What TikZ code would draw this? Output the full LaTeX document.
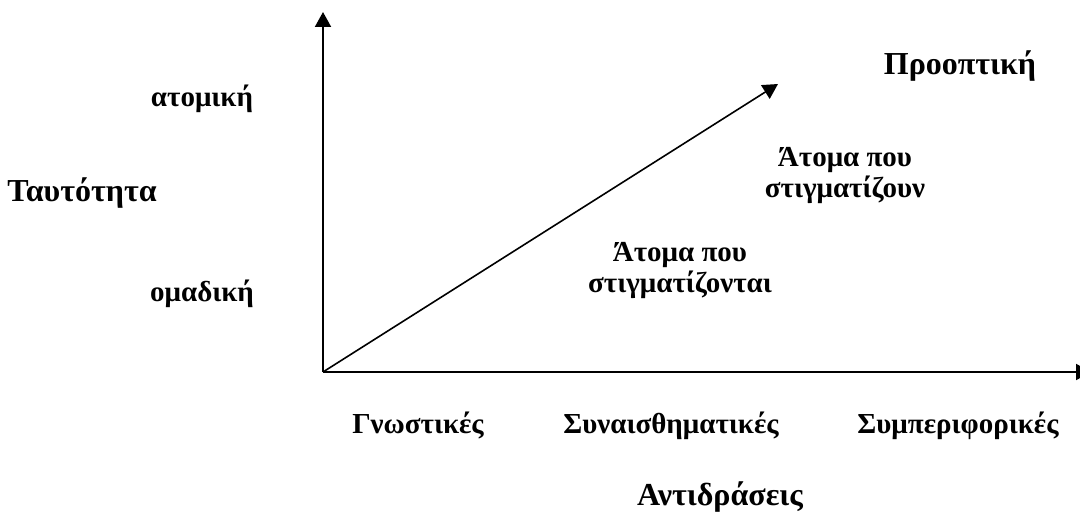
\documentclass[tikz,border=0pt]{standalone}
\usepackage{fontspec}
\setmainfont{Liberation Serif}
\usetikzlibrary{arrows.meta}
\tikzset{
  lbl/.style={anchor=base, inner sep=0pt, font=\bfseries\fontsize{29}{31}\selectfont},
  big/.style={lbl, font=\bfseries\fontsize{32}{34}\selectfont},
  twoline/.style={lbl, align=center},
  axis/.style={line width=2pt, -{Triangle[length=15pt,width=16pt]}},
  diag/.style={line width=1.6pt, -{Triangle[length=15pt,width=16pt]}}
}
\begin{document}
\begin{tikzpicture}[x=1pt,y=-1pt]
\useasboundingbox (0,0) rectangle (1080,513);
\coordinate (O) at (323,372);
\coordinate (Ytop) at (323,12);
\coordinate (Xend) at (1091,372);
\coordinate (Dend) at (778,84);
\draw[axis] (O) -- (Ytop);
\draw[axis] (O) -- (Xend);
\draw[diag] (O) -- (Dend);
\node[lbl] (atom) at (202,107) {ατομική};
\node[big] (taut) at (82,202) {Ταυτότητα};
\node[lbl] (omad) at (202,302) {ομαδική};
\node[big] (proop) at (960,75) {Προοπτική};
\node[twoline] (stig1) at (845,198) {Άτομα που\\στιγματίζουν};
\node[twoline] (stig2) at (680,293) {Άτομα που\\στιγματίζονται};
\node[lbl] (gnos) at (418,433) {Γνωστικές};
\node[lbl] (syna) at (671,433) {Συναισθηματικές};
\node[lbl] (symp) at (958,433) {Συμπεριφορικές};
\node[big] (antid) at (720,505) {Αντιδράσεις};
\end{tikzpicture}
\end{document}
